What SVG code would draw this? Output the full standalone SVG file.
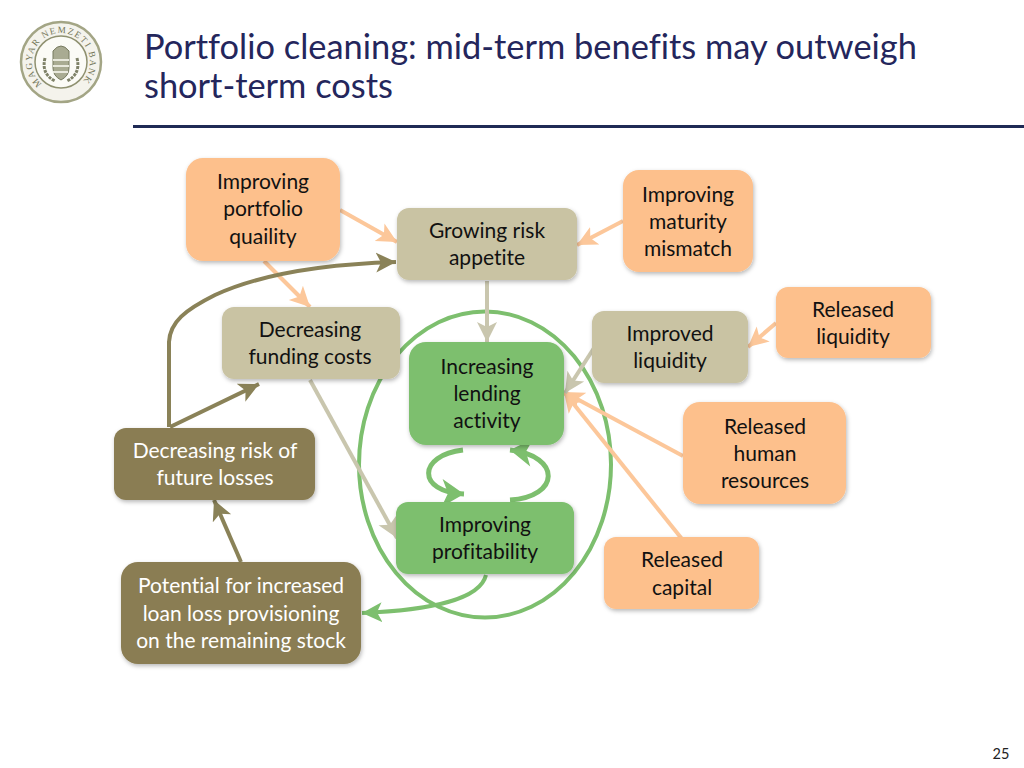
<svg xmlns="http://www.w3.org/2000/svg" width="1024" height="768" viewBox="0 0 1024 768">
<style>
text{font-family:Lato,"Open Sans",sans-serif;font-variant-ligatures:none}
.t{font-size:21px;fill:#111;text-anchor:middle}
.w{font-size:21px;fill:#fff;text-anchor:middle}
.or{fill:#fdc08c}.tan{fill:#c9c3a3}.gr{fill:#7dbf6e}.ol{fill:#8a7d52}
.box{filter:url(#sh)}
.c{fill:none;stroke-width:4}
.co{stroke:#fcc79a}.ct{stroke:#c9c6ae}.cd{stroke:#8a8258}.cg{stroke:#7dbf6e}
.thick{stroke-width:5}
</style>
<defs>
<filter id="sh" x="-10%" y="-10%" width="120%" height="125%"><feDropShadow dx="1" dy="2" stdDeviation="2" flood-color="#000" flood-opacity="0.28"/></filter>
<marker id="mo" markerUnits="userSpaceOnUse" markerWidth="22" markerHeight="22" refX="20" refY="11" orient="auto"><path d="M0 1 L20 11 L0 21 L5 11Z" fill="#fcc79a"/></marker>
<marker id="mt" markerUnits="userSpaceOnUse" markerWidth="22" markerHeight="22" refX="20" refY="11" orient="auto"><path d="M0 1 L20 11 L0 21 L5 11Z" fill="#c9c6ae"/></marker>
<marker id="md" markerUnits="userSpaceOnUse" markerWidth="22" markerHeight="22" refX="20" refY="11" orient="auto"><path d="M0 1 L20 11 L0 21 L5 11Z" fill="#8a8258"/></marker>
<marker id="mg" markerUnits="userSpaceOnUse" markerWidth="22" markerHeight="22" refX="20" refY="11" orient="auto"><path d="M0 1 L20 11 L0 21 L5 11Z" fill="#7dbf6e"/></marker>
<marker id="mgb" markerUnits="userSpaceOnUse" markerWidth="28" markerHeight="30" refX="25" refY="15" orient="auto"><path d="M3 1 L25 15 L3 29 L9 15Z" fill="#7dbf6e"/></marker>
<path id="ring" d="M42 84 A29 29 0 1 1 61 91"/>
</defs>
<rect width="1024" height="768" fill="#fff"/>
<g id="logo">
<circle cx="61" cy="62" r="40" fill="#f4f3ec" stroke="#a3a585" stroke-width="2.5"/>
<circle cx="61" cy="62" r="26" fill="#fbfbf6" stroke="#8f9170" stroke-width="1.5"/>
<text font-size="9.2" fill="#75775a" letter-spacing="1.4" style="font-family:'Liberation Serif',serif"><textPath href="#ring">MAGYAR NEMZETI BANK</textPath></text>
<path d="M53 51 Q61 41 69 51 V68 Q69 76 61 80 Q53 76 53 68Z" fill="#a9ab92" stroke="#777a5f"/>
<path d="M53 60 H69 M53 66 H69 M53 72 H68" stroke="#e8e8dc" stroke-width="2"/>
<path d="M45 58 Q41 74 55 81 M77 58 Q81 74 67 81" fill="none" stroke="#7f8268" stroke-width="3" stroke-dasharray="3 1"/>
</g>
<g id="title">
<text x="144" y="58.5" font-size="34.4" fill="#24265c">Portfolio cleaning: mid-term benefits may outweigh</text>
<text x="144" y="98" font-size="34.4" fill="#24265c">short-term costs</text>
<rect x="133" y="125" width="891" height="3" fill="#1f2a55"/>
</g>
<text id="page" x="1001" y="759" font-size="14.5" fill="#222" text-anchor="middle">25</text>
<ellipse id="cycle" cx="485" cy="464.5" rx="126" ry="153" fill="none" stroke="#7dbf6e" stroke-width="4"/>
<g id="connectors">
<path class="c co" d="M340 210 L397 242" marker-end="url(#mo)"/>
<path class="c co" d="M264 261 L310 307" marker-end="url(#mo)"/>
<path class="c co" d="M623 221 L577 245" marker-end="url(#mo)"/>
<path class="c co" d="M776 323 L748 347" marker-end="url(#mo)"/>
<path class="c co" d="M683 456 L564 392" marker-end="url(#mo)"/>
<path class="c co" d="M682 539 L564 392" marker-end="url(#mo)"/>
<path class="c ct" d="M487 281 L487 342" marker-end="url(#mt)"/>
<path class="c ct" d="M594 348 L565 393" marker-end="url(#mt)"/>
<path class="c ct" d="M310 380 L397 538" marker-end="url(#mt)"/>
<path class="c cd" d="M169 427 V342 C170 322 185 310 215 295 C265 272 330 264 396 262" marker-end="url(#md)"/>
<path class="c cd" d="M170 427 L259 384" marker-end="url(#md)"/>
<path class="c cd" d="M241 562 L214 500" marker-end="url(#md)"/>
<path class="c cg" d="M486 575 C480 600 430 610 362 613" marker-end="url(#mg)"/>
<path class="c cg thick" d="M463 450 C418 455 416 492 464 494" marker-end="url(#mgb)"/>
<path class="c cg thick" d="M510 500 C560 497 562 456 510 450" marker-end="url(#mgb)"/>
</g>
<g id="n1"><rect class="box or" x="186" y="158" width="154" height="103" rx="17"/><text class="t" x="263" y="189">Improving</text><text class="t" x="263" y="216">portfolio</text><text class="t" x="263" y="244">quaility</text></g>
<g id="n2"><rect class="box tan" x="397" y="208" width="180" height="72" rx="12"/><text class="t" x="487" y="238">Growing risk</text><text class="t" x="487" y="265">appetite</text></g>
<g id="n3"><rect class="box or" x="623" y="170" width="130" height="102" rx="16"/><text class="t" x="688" y="202">Improving</text><text class="t" x="688" y="229">maturity</text><text class="t" x="688" y="256">mismatch</text></g>
<g id="n4"><rect class="box or" x="776" y="287" width="155" height="71" rx="12"/><text class="t" x="853" y="317">Released</text><text class="t" x="853" y="344">liquidity</text></g>
<g id="n5"><rect class="box tan" x="222" y="307" width="178" height="72" rx="12"/><text class="t" x="310" y="337">Decreasing</text><text class="t" x="310" y="364">funding costs</text></g>
<g id="n6"><rect class="box tan" x="592" y="311" width="156" height="72" rx="12"/><text class="t" x="670" y="341">Improved</text><text class="t" x="670" y="368">liquidity</text></g>
<g id="n7"><rect class="box gr" x="409" y="342" width="155" height="103" rx="17"/><text class="t" x="487" y="374">Increasing</text><text class="t" x="487" y="401">lending</text><text class="t" x="487" y="428">activity</text></g>
<g id="n8"><rect class="box or" x="683" y="402" width="163" height="102" rx="17"/><text class="t" x="765" y="434">Released</text><text class="t" x="765" y="461">human</text><text class="t" x="765" y="488">resources</text></g>
<g id="n9"><rect class="box ol" x="114" y="428" width="201" height="72" rx="12"/><text class="w" x="215" y="458">Decreasing risk of</text><text class="w" x="215" y="485">future losses</text></g>
<g id="n10"><rect class="box gr" x="396" y="502" width="178" height="72" rx="12"/><text class="t" x="485" y="532">Improving</text><text class="t" x="485" y="559">profitability</text></g>
<g id="n11"><rect class="box or" x="604" y="537" width="155" height="72" rx="12"/><text class="t" x="682" y="567">Released</text><text class="t" x="682" y="595">capital</text></g>
<g id="n12"><rect class="box ol" x="121" y="562" width="240" height="102" rx="17"/><text class="w" x="241" y="593">Potential for increased</text><text class="w" x="241" y="621">loan loss provisioning</text><text class="w" x="241" y="648">on the remaining stock</text></g>
</svg>
